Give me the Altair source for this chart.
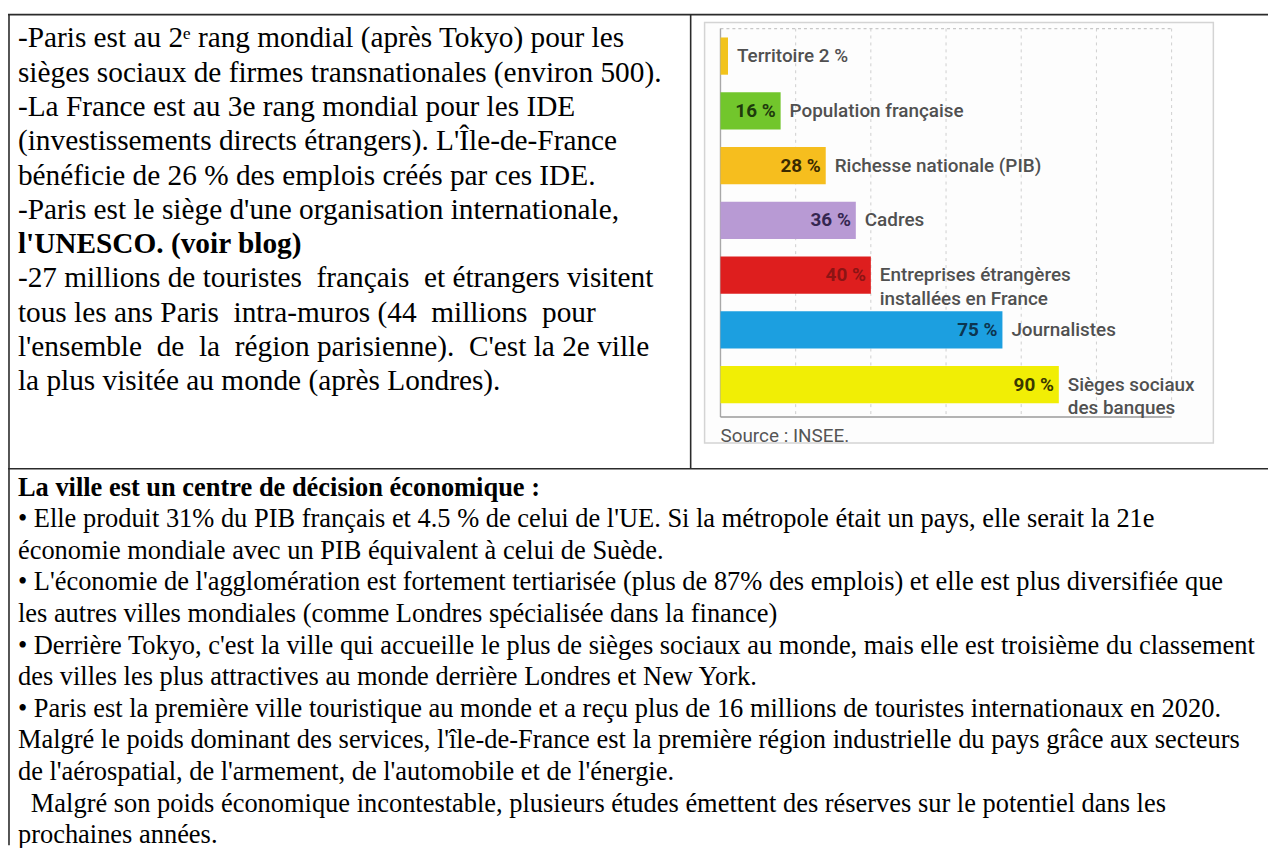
import altair as alt
import pandas as pd

# ---------------- data ----------------
categories = ["Territoire", "Population française", "Richesse nationale (PIB)", "Cadres",
              "Entreprises étrangères installées en France", "Journalistes",
              "Sièges sociaux des banques"]
values = [2, 16, 28, 36, 40, 75, 90]
value_labels = ["", "16 %", "28 %", "36 %", "40 %", "75 %", "90 %"]
outside_labels = ["Territoire 2 %", "Population française", "Richesse nationale (PIB)", "Cadres",
                  "Entreprises étrangères\ninstallées en France", "Journalistes",
                  "Sièges sociaux\ndes banques"]
bar_colors = ["#f2c31c", "#72c62c", "#f6be1e", "#b89ad4", "#de1e1e", "#1c9fe0", "#f1ee05"]
label_colors = ["#333333", "#1e3a0c", "#3a2a00", "#352650", "#8c1414", "#0c3550", "#3a3800"]
grid_ticks = [20, 40, 60, 80, 100, 120]

upper_lines = [
    "-Paris est au 2ᵉ rang mondial (après Tokyo) pour les",
    "sièges sociaux de firmes transnationales (environ 500).",
    "-La France est au 3e rang mondial pour les IDE",
    "(investissements directs étrangers). L'Île-de-France",
    "bénéficie de 26 % des emplois créés par ces IDE.",
    "-Paris est le siège d'une organisation internationale,",
    "l'UNESCO. (voir blog)",
    "-27 millions de touristes  français  et étrangers visitent",
    "tous les ans Paris  intra-muros (44  millions  pour",
    "l'ensemble  de  la  région parisienne).  C'est la 2e ville",
    "la plus visitée au monde (après Londres).",
]
upper_bold = [False, False, False, False, False, False, True, False, False, False, False]

lower_lines = [
    "La ville est un centre de décision économique :",
    "• Elle produit 31% du PIB français et 4.5 % de celui de l'UE. Si la métropole était un pays, elle serait la 21e",
    "économie mondiale avec un PIB équivalent à celui de Suède.",
    "• L'économie de l'agglomération est fortement tertiarisée (plus de 87% des emplois) et elle est plus diversifiée que",
    "les autres villes mondiales (comme Londres spécialisée dans la finance)",
    "• Derrière Tokyo, c'est la ville qui accueille le plus de sièges sociaux au monde, mais elle est troisième du classement",
    "des villes les plus attractives au monde derrière Londres et New York.",
    "• Paris est la première ville touristique au monde et a reçu plus de 16 millions de touristes internationaux en 2020.",
    "Malgré le poids dominant des services, l'île-de-France est la première région industrielle du pays grâce aux secteurs",
    "de l'aérospatial, de l'armement, de l'automobile et de l'énergie.",
    "  Malgré son poids économique incontestable, plusieurs études émettent des réserves sur le potentiel dans les",
    "prochaines années.",
]
lower_bold = [True] + [False] * 11

source_text = "Source : INSEE."


def keep_spaces(s):
    # SVG collapses runs of spaces: keep them with non-breaking spaces
    return s.replace("  ", "\u00a0\u00a0")


# ---------------- frames ----------------
df = pd.DataFrame({"cat": categories, "val": values, "vlab": value_labels, "olab": outside_labels})
ticks_df = pd.DataFrame({"t": grid_ticks})
one = pd.DataFrame({"a": [0]})

x_scale = alt.Scale(domain=[0, 120], range=[717, 1171], nice=False, zero=True)
y_scale = alt.Scale(domain=categories, range=[27, 395], paddingInner=0.32, paddingOuter=0)

SERIF = "Liberation Serif"
SANS = "Roboto"

layers = []


def rule(x, y, x2=None, y2=None, color="#2b2b2b", width=1.6, dash=None):
    kw = dict(color=color, strokeWidth=width)
    if dash:
        kw["strokeDash"] = dash
    enc = dict(x=alt.value(x), y=alt.value(y))
    if x2 is not None:
        enc["x2"] = alt.value(x2)
    if y2 is not None:
        enc["y2"] = alt.value(y2)
    return alt.Chart(one).mark_rule(**kw).encode(**enc)


# table borders
layers.append(rule(0, 4, x2=1268, y2=4))
layers.append(rule(1, 4, x2=1, y2=840))
layers.append(rule(687, 4, x2=687, y2=461))
layers.append(rule(0, 461, x2=1268, y2=461))

# image frame
layers.append(
    alt.Chart(one).mark_rect(fill="#fdfdfd", stroke="#d4d4d4", strokeWidth=1.5).encode(
        x=alt.value(701), x2=alt.value(1213), y=alt.value(12), y2=alt.value(435)
    )
)

# gridlines (dashed)
layers.append(
    alt.Chart(ticks_df).mark_rule(color="#cfcfcf", strokeWidth=1, strokeDash=[3, 4]).encode(
        x=alt.X("t:Q", scale=x_scale, axis=None), y=alt.value(18), y2=alt.value(409)
    )
)
layers.append(rule(717, 18, x2=1171, y2=18, color="#c8c8c8", width=1.2, dash=[3, 3]))
layers.append(rule(717, 18, x2=717, y2=409, color="#a8a8a8", width=1.4))
layers.append(rule(717, 409, x2=1171, y2=409, color="#9a9a9a", width=1.6))

# bars
bars = alt.Chart(df).mark_bar().encode(
    x=alt.X("val:Q", scale=x_scale, axis=None),
    y=alt.Y("cat:N", scale=y_scale, axis=None, sort=categories),
    color=alt.Color("cat:N", scale=alt.Scale(domain=categories, range=bar_colors), legend=None),
)
# value labels inside bars
vlabels = alt.Chart(df).mark_text(align="right", baseline="middle", dx=-5, font=SANS, fontSize=19,
                                  fontWeight="bold").encode(
    x=alt.X("val:Q", scale=x_scale, axis=None),
    y=alt.Y("cat:N", scale=y_scale, axis=None, sort=categories),
    text="vlab:N",
    fill=alt.Fill("cat:N", scale=alt.Scale(domain=categories, range=label_colors), legend=None),
)
# category labels after bars
olabels = alt.Chart(df).mark_text(align="left", baseline="middle", dx=9, font=SANS, fontSize=19,
                                  fontWeight=500, color="#505050", lineBreak="\n", lineHeight=24).encode(
    x=alt.X("val:Q", scale=x_scale, axis=None),
    y=alt.Y("cat:N", scale=y_scale, axis=None, sort=categories),
    text="olab:N",
)
layers += [bars, vlabels, olabels]

# source
layers.append(
    alt.Chart(pd.DataFrame({"s": [source_text]})).mark_text(
        align="left", baseline="middle", font=SANS, fontSize=19, color="#555555"
    ).encode(x=alt.value(717), y=alt.value(428), text="s:N")
)

# upper-left text
for i, (line, b) in enumerate(zip(upper_lines, upper_bold)):
    layers.append(
        alt.Chart(pd.DataFrame({"s": [keep_spaces(line)]})).mark_text(
            align="left", baseline="middle", font=SERIF, fontSize=29.5,
            fontWeight="bold" if b else "normal", color="#000000"
        ).encode(x=alt.value(10), y=alt.value(28 + 34.5 * i), text="s:N")
    )

# lower text
for i, (line, b) in enumerate(zip(lower_lines, lower_bold)):
    indent = 13 if line.startswith("  ") else 0
    layers.append(
        alt.Chart(pd.DataFrame({"s": [line.strip()]})).mark_text(
            align="left", baseline="middle", font=SERIF, fontSize=26.6,
            fontWeight="bold" if b else "normal", color="#000000"
        ).encode(x=alt.value(10 + indent), y=alt.value(480 + 31.8 * i), text="s:N")
    )

chart = alt.layer(*layers).resolve_scale(color="independent", fill="independent").properties(
    width=1268, height=840, padding=0, autosize="none", background="white"
).configure_view(stroke=None)

chart.save("out.html", embed_options={"renderer": "svg", "actions": False})
